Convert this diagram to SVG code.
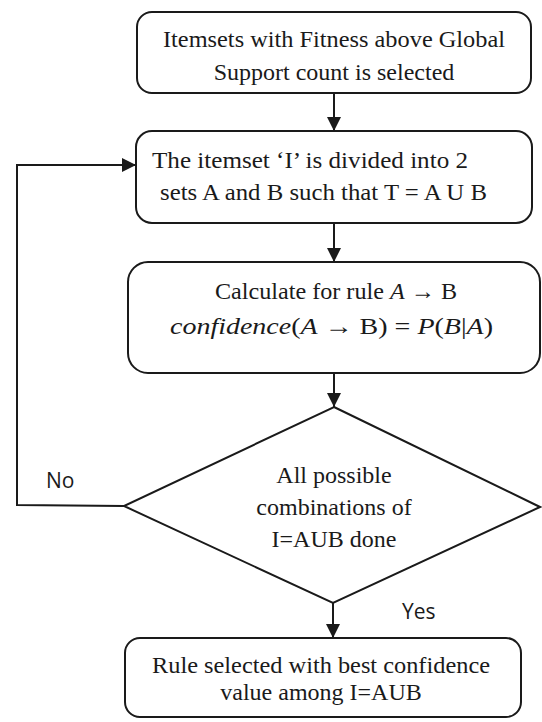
<svg xmlns="http://www.w3.org/2000/svg" width="542" height="722" viewBox="0 0 542 722">
  <style>
    .shape { fill: #ffffff; stroke: #1a1a1a; stroke-width: 2; }
    .txt { font-family: "Liberation Serif", "Times New Roman", serif; font-size: 24px; fill: #1a1a1a; }
    .math { font-family: "Liberation Serif", "Times New Roman", serif; font-style: italic; }
    .lbl { font-family: "Open Sans", "Liberation Sans", sans-serif; font-size: 21px; fill: #1a1a1a; }
    .wire { fill: none; stroke: #1a1a1a; stroke-width: 2; }
  </style>
  <defs>
    <marker id="arrow" viewBox="0 0 14 14" refX="14" refY="7" markerWidth="14" markerHeight="14" markerUnits="userSpaceOnUse" orient="auto">
      <path d="M0,0 L14,7 L0,14 Z" fill="#1a1a1a"/>
    </marker>
  </defs>
  <rect width="542" height="722" fill="#ffffff"/>

  <g id="connectors">
    <line class="wire" x1="334" y1="93" x2="334" y2="131" marker-end="url(#arrow)"/>
    <line class="wire" x1="334" y1="223" x2="334" y2="262" marker-end="url(#arrow)"/>
    <line class="wire" x1="334" y1="373" x2="334" y2="407" marker-end="url(#arrow)"/>
    <line class="wire" x1="333" y1="603" x2="333" y2="638" marker-end="url(#arrow)"/>
    <polyline class="wire" points="124,506 17,505 17,165 136,165" marker-end="url(#arrow)"/>
    <text class="lbl" x="46" y="488">No</text>
    <text class="lbl" x="402" y="619">Yes</text>
  </g>

  <g id="select-itemsets">
    <rect class="shape" x="137" y="12" width="394" height="81" rx="15"/>
    <text class="txt" x="163" y="47" textLength="342" lengthAdjust="spacingAndGlyphs">Itemsets with Fitness above Global</text>
    <text class="txt" x="334" y="80" text-anchor="middle">Support count is selected</text>
  </g>

  <g id="divide-itemset">
    <rect class="shape" x="136" y="131" width="396" height="92" rx="16"/>
    <text class="txt" x="152" y="168" textLength="316" lengthAdjust="spacingAndGlyphs">The itemset ‘I’ is divided into 2</text>
    <text class="txt" x="160" y="200" textLength="327" lengthAdjust="spacingAndGlyphs">sets A and B such that T = A U B</text>
  </g>

  <g id="calculate-confidence">
    <rect class="shape" x="128" y="262" width="412" height="111" rx="20"/>
    <text class="txt" x="215" y="299" textLength="242" lengthAdjust="spacingAndGlyphs">Calculate for rule <tspan class="math">A</tspan> → B</text>
    <text class="txt" x="170" y="334" textLength="323" lengthAdjust="spacingAndGlyphs"><tspan class="math">confidence</tspan>(<tspan class="math">A</tspan> → B) = <tspan class="math">P</tspan>(<tspan class="math">B</tspan>|<tspan class="math">A</tspan>)</text>
  </g>

  <g id="combinations-done">
    <polygon class="shape" points="334,407 540,507 333,603 124,506"/>
    <text class="txt" x="334" y="483" text-anchor="middle">All possible</text>
    <text class="txt" x="334" y="515" text-anchor="middle">combinations of</text>
    <text class="txt" x="334" y="547" text-anchor="middle">I=AUB done</text>
  </g>

  <g id="best-rule">
    <rect class="shape" x="125" y="638" width="396" height="79" rx="15"/>
    <text class="txt" x="152" y="673" textLength="338" lengthAdjust="spacingAndGlyphs">Rule selected with best confidence</text>
    <text class="txt" x="321" y="700" text-anchor="middle">value among I=AUB</text>
  </g>
</svg>
